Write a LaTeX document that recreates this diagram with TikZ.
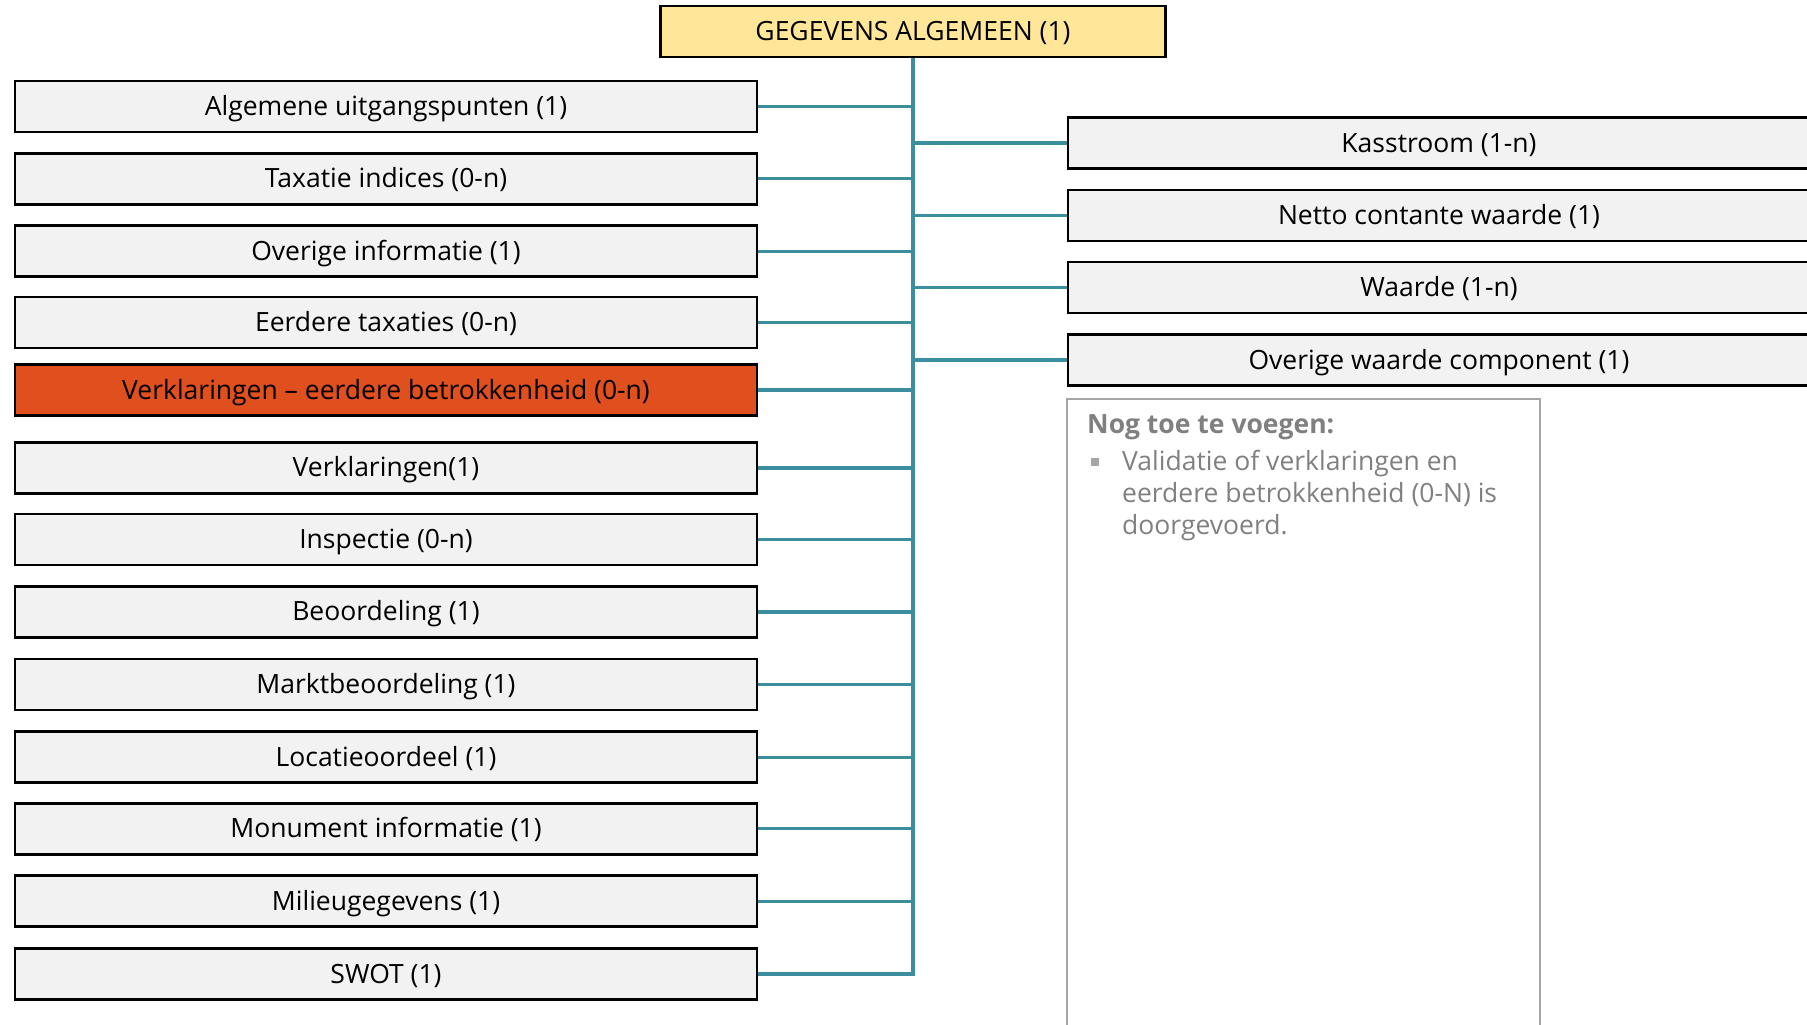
\documentclass[tikz,border=0pt]{standalone}
\usepackage{fontspec}
\setmainfont{Open Sans}
\definecolor{boxfill}{HTML}{F2F2F2}
\definecolor{topfill}{HTML}{FFE699}
\definecolor{hotfill}{HTML}{E04F1E}
\definecolor{linkcol}{HTML}{3A8E9E}
\definecolor{notegray}{HTML}{808080}
\definecolor{noteframe}{HTML}{A6A6A6}
\begin{document}
\begin{tikzpicture}[x=1pt,y=-1pt,
  entity/.style={draw=black, line width=2.5pt, fill=boxfill, minimum height=51pt,
    inner sep=0pt, text height=24pt, text depth=6pt,
    font=\fontsize{26.5}{30}\selectfont},
  leftbox/.style={entity, minimum width=742pt},
  rightbox/.style={entity, minimum width=742pt},
  link/.style={draw=linkcol, line width=3.2pt},
  notetext/.style={align=left, inner sep=0pt, text=notegray,
    font=\fontsize{26.5}{32}\selectfont}]
\useasboundingbox (0,0) rectangle (1807,1025);

% root entity
\node[entity, fill=topfill, minimum width=505pt] (top) at (913,31.5) {GEGEVENS ALGEMEEN (1)};

% left column
\node[leftbox] (l1)  at (386,106.5) {Algemene uitgangspunten (1)};
\node[leftbox] (l2)  at (386,178.8) {Taxatie indices (0-n)};
\node[leftbox] (l3)  at (386,251.2) {Overige informatie (1)};
\node[leftbox] (l4)  at (386,322.7) {Eerdere taxaties (0-n)};
\node[leftbox, fill=hotfill] (l5) at (386,390) {Verklaringen -- eerdere betrokkenheid (0-n)};
\node[leftbox] (l6)  at (386,467.9) {Verklaringen(1)};
\node[leftbox] (l7)  at (386,539.5) {Inspectie (0-n)};
\node[leftbox] (l8)  at (386,611.9) {Beoordeling (1)};
\node[leftbox] (l9)  at (386,684.5) {Marktbeoordeling (1)};
\node[leftbox] (l10) at (386,757.1) {Locatieoordeel (1)};
\node[leftbox] (l11) at (386,828.8) {Monument informatie (1)};
\node[leftbox] (l12) at (386,901.2) {Milieugegevens (1)};
\node[leftbox] (l13) at (386,974)   {SWOT (1)};

% right column
\node[rightbox] (r1) at (1439,143)   {Kasstroom (1-n)};
\node[rightbox] (r2) at (1439,215.5) {Netto contante waarde (1)};
\node[rightbox] (r3) at (1439,287.5) {Waarde (1-n)};
\node[rightbox] (r4) at (1439,360)   {Overige waarde component (1)};

% trunk and branches
\draw[link] (top.south) |- (l13.east);
\foreach \n in {l1,l2,l3,l4,l5,l6,l7,l8,l9,l10,l11,l12}
  \draw[link] (\n.east) -- (\n.east -| top.south);
\foreach \n in {r1,r2,r3,r4}
  \draw[link] (\n.west) -- (\n.west -| top.south);

% open issues panel
\draw[noteframe, line width=2.4pt] (1067,1040) -- (1067,399) -- (1540,399) -- (1540,1040);
\node[notetext, anchor=north west] (note) at (1087,414)
  {\textbf{Nog toe te voegen:}\\[5pt]
   \makebox[35pt][l]{\hspace{4pt}\textcolor{noteframe}{\rule[4pt]{8pt}{8pt}}}Validatie of verklaringen en\\
   \hspace*{35pt}eerdere betrokkenheid (0-N) is\\
   \hspace*{35pt}doorgevoerd.};
\end{tikzpicture}
\end{document}
